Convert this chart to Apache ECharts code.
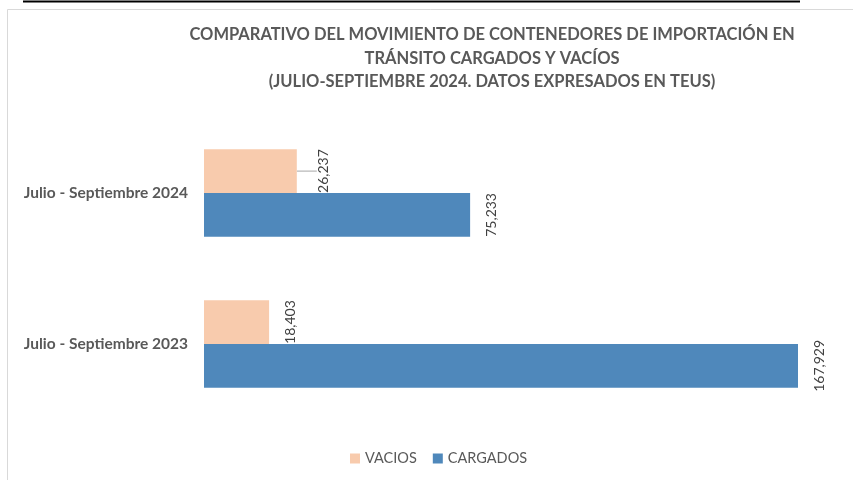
<!DOCTYPE html>
<html>
<head>
<meta charset="utf-8">
<script src="https://cdn.jsdelivr.net/npm/echarts@6/dist/echarts.min.js"></script>
<style>
html,body{margin:0;padding:0;background:#fff;}
#chart{width:853px;height:480px;}
</style>
</head>
<body>
<div id="chart"></div>
<script>
var categorias = ['Julio - Septiembre 2024', 'Julio - Septiembre 2023'];
var vacios = [26237, 18403];
var cargados = [75233, 167929];
var leyenda = ['VACIOS', 'CARGADOS'];

var myChart = echarts.init(document.getElementById('chart'));
var fuente = 'Lato';

function etiqueta(){
    return {
        show: true,
        position: 'right',
        distance: 21,
        rotate: 90,
        align: 'center',
        verticalAlign: 'middle',
        color: '#404040',
        fontFamily: fuente,
        fontSize: 14,
        formatter: function(p){ return p.value.toLocaleString('en-US'); }
    };
}

// la etiqueta de 26,237 va un poco separada, con su linea guia
var vaciosItems = vacios.map(function(v, i){
    if (i === 0) return {value: v, label: {distance: 27}, labelLine: {show: true, length2: 0}};
    return v;
});

var option = {
    backgroundColor: '#fff',
    animation: false,
    title: {
        text: 'COMPARATIVO DEL MOVIMIENTO DE CONTENEDORES DE IMPORTACIÓN EN\nTRÁNSITO CARGADOS Y VACÍOS\n(JULIO-SEPTIEMBRE 2024. DATOS EXPRESADOS EN TEUS)',
        left: 487,
        top: 18,
        textAlign: 'center',
        textStyle: {
            color: '#595959',
            fontFamily: fuente,
            fontWeight: 'bold',
            fontSize: 16.5,
            lineHeight: 23.5
        }
    },
    legend: {
        data: leyenda,
        left: 345,
        top: 446,
        itemWidth: 10,
        itemHeight: 10,
        itemGap: 16,
        icon: 'rect',
        textStyle: {color: '#595959', fontFamily: fuente, fontSize: 14.5}
    },
    grid: {
        left: 204,
        width: 636.7,
        top: 117.5,
        height: 302
    },
    xAxis: {
        type: 'value',
        min: 0,
        max: 180000,
        show: false
    },
    yAxis: {
        type: 'category',
        data: categorias,
        inverse: true,
        axisLine: {show: false},
        axisTick: {show: false},
        axisLabel: {
            margin: 16,
            color: '#595959',
            fontFamily: fuente,
            fontWeight: 'bold',
            fontSize: 15.5
        }
    },
    series: [
        {
            name: 'VACIOS',
            type: 'bar',
            data: vaciosItems,
            barGap: 0,
            barCategoryGap: '42%',
            itemStyle: {color: '#F8CBAD'},
            label: etiqueta(),
            labelLine: {lineStyle: {color: '#a6a6a6', width: 1}}
        },
        {
            name: 'CARGADOS',
            type: 'bar',
            data: cargados,
            itemStyle: {color: '#4F88BB'},
            label: etiqueta()
        }
    ],
    graphic: [
        {type: 'line', shape: {x1: 23, y1: 1.5, x2: 800, y2: 1.5}, style: {stroke: '#000', lineWidth: 2}},
        {type: 'polyline', shape: {points: [[7.5, 480], [7.5, 9.5], [853, 9.5]]}, style: {stroke: '#d9d9d9', lineWidth: 1, fill: null}}
    ]
};
myChart.setOption(option);
</script>
</body>
</html>
